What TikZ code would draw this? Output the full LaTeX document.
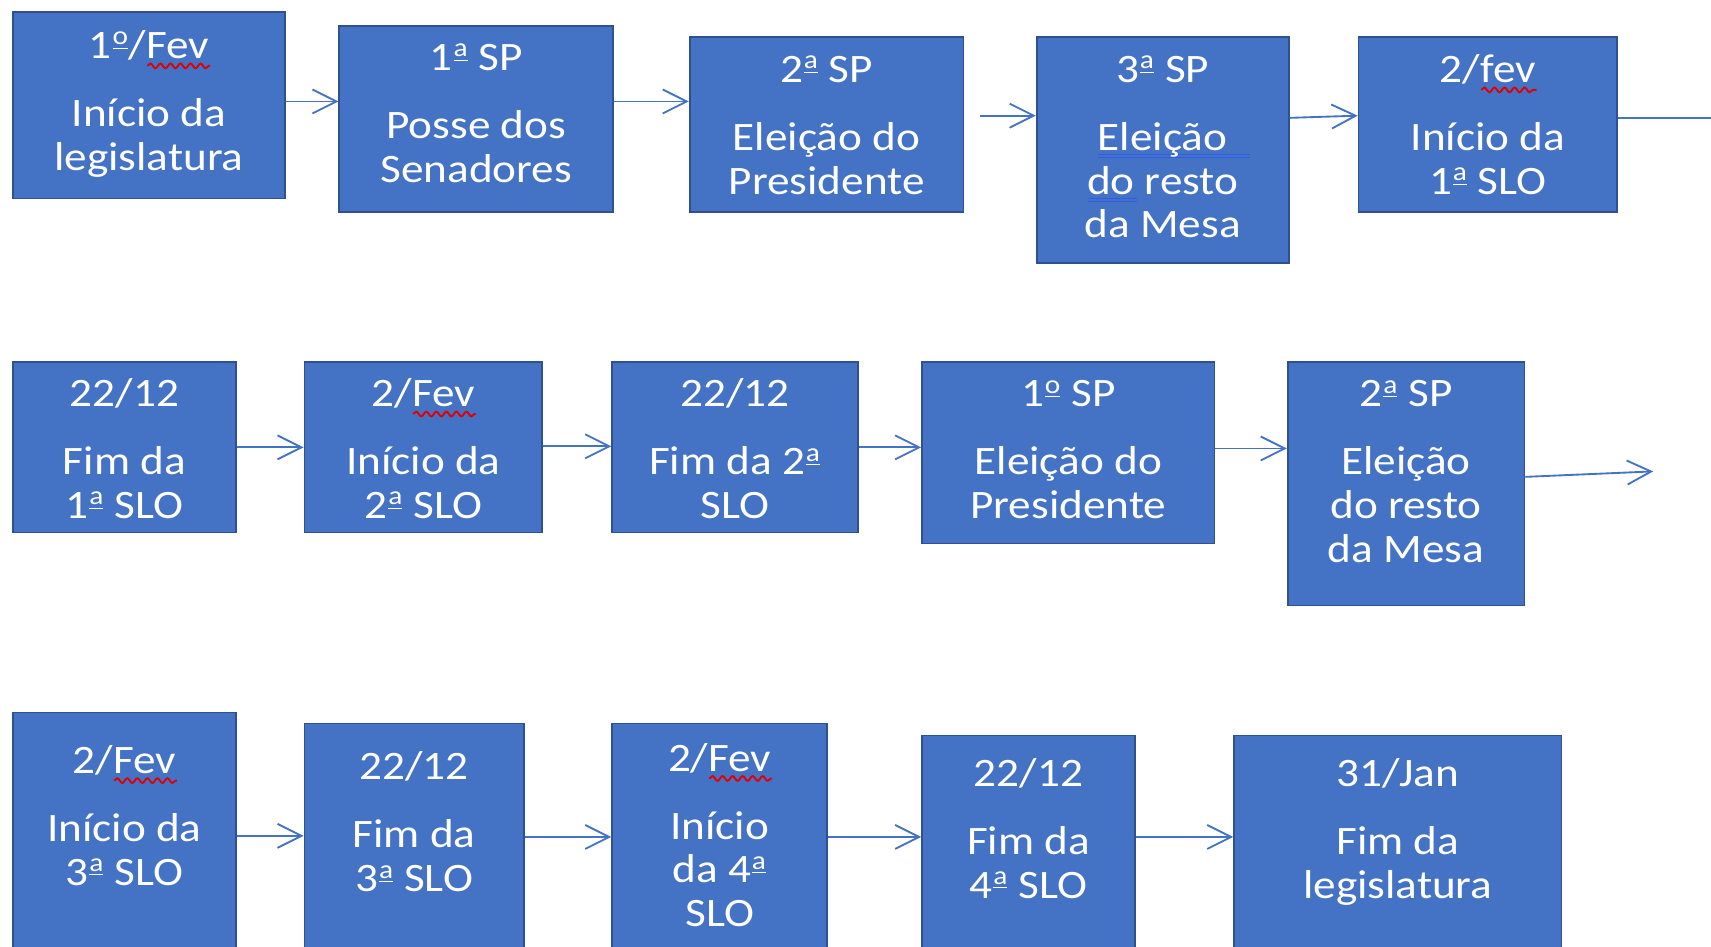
\documentclass[tikz,border=0pt]{standalone}
\usepackage{fontspec}
\setmainfont{Carlito}[FakeStretch=1.12]
\usetikzlibrary{arrows.meta,fit,decorations.pathmorphing}
\definecolor{boxfill}{HTML}{4472C4}
\definecolor{boxline}{HTML}{2F528F}
\definecolor{arrowc}{HTML}{4472C4}
\definecolor{squig}{HTML}{E00000}
\definecolor{gram}{HTML}{2F5CE0}
\newlength\sqlen
\newcommand\sqw[1]{\settowidth\sqlen{#1}\rlap{\tikz[baseline=0pt]\draw[squig,line width=0.85pt,decorate,decoration={snake,amplitude=1.1pt,segment length=4.6pt}] (0pt,-3.4pt) -- (\sqlen,-3.4pt);}#1}
\newcommand\dbl[2][0pt]{\settowidth\sqlen{#2}\addtolength\sqlen{#1}\rlap{\tikz[baseline=0pt]{\draw[gram,line width=0.5pt] (-1pt,-1.8pt) -- (\sqlen,-1.8pt) (-1pt,-3.2pt) -- (\sqlen,-3.2pt);}}#2}
\newcommand\ordi[1]{\kern0.4pt\raisebox{6.2pt}{\fontsize{12}{12}\selectfont$\underline{\hbox{#1}}$}\kern0.4pt}
\newcommand\oa{\ordi{a}}
\newcommand\oo{\ordi{o}}
\tikzset{
  stepbox/.style={draw=boxline, fill=boxfill, line width=0.8pt, inner sep=0pt, rectangle},
  txt/.style={anchor=north, inner sep=0pt, align=center, text=white, font=\fontsize{18.5}{20}\selectfont},
  conn/.style={draw=arrowc, line width=0.85pt, -{Straight Barb[length=11pt,width=11pt]}},
  plainline/.style={draw=arrowc, line width=0.85pt}
}
\newcommand\bx[7]{%
  \node[stepbox, fit={(#2,#3) (#4,#5)}] (#1) {};
  \node[txt] (#1t) at ([shift={(0,#6-20)}]#1.north) {\rule{0pt}{16pt}#7};}
\begin{document}
\begin{tikzpicture}[x=0.5pt,y=-0.5pt]
\useasboundingbox (0,0) rectangle (1568,867);
\clip (0,0) rectangle (1568,867);
% row 1
\bx{b1}{12}{11}{261}{182}{31}{1\oo/\sqw{Fev}\\[11.25pt]Início da\\legislatura}
\bx{b2}{311}{24}{562}{194}{29}{1\oa{} SP\\[11.25pt]Posse dos\\Senadores}
\bx{b3}{632}{34}{883}{194}{30}{2\oa{} SP\\[11.25pt]Eleição do\\Presidente}
\bx{b4}{950}{34}{1181}{241}{30}{3\oa{} SP\\[11.25pt]\dbl[9pt]{Eleição}\\\dbl{do} resto\\da Mesa}
\bx{b5}{1245}{34}{1482}{194}{30}{2/\sqw{fev}\\[11.25pt]Início da\\1\oa{} SLO}
% row 2
\bx{c1}{12}{332}{216}{488}{29}{22/12\\[11.25pt]Fim da\\1\oa{} SLO}
\bx{c2}{279}{332}{497}{488}{29}{2/\sqw{Fev}\\[11.25pt]Início da\\2\oa{} SLO}
\bx{c3}{561}{332}{786}{488}{29}{22/12\\[11.25pt]Fim da 2\oa\\SLO}
\bx{c4}{845}{332}{1113}{498}{29}{1\oo{} SP\\[11.25pt]Eleição do\\Presidente}
\bx{c5}{1180}{332}{1397}{555}{29}{2\oa{} SP\\[11.25pt]Eleição\\do resto\\da Mesa}
% row 3
\bx{d1}{12}{653}{216}{880}{44}{2/\sqw{Fev}\\[11.25pt]Início da\\3\oa{} SLO}
\bx{d2}{279}{663}{480}{880}{40}{22/12\\[11.25pt]Fim da\\3\oa{} SLO}
\bx{d3}{561}{663}{758}{880}{32}{2/\sqw{Fev}\\[11.25pt]Início\\da 4\oa\\SLO}
\bx{d4}{845}{674}{1040}{880}{35}{22/12\\[11.25pt]Fim da\\4\oa{} SLO}
\bx{d5}{1131}{674}{1431}{880}{35}{31/Jan\\[11.25pt]Fim da\\legislatura}
% connectors row 1
\draw[conn] ([shift={(0,-3.5)}]b1.east) -- ([shift={(0,-16)}]b2.west);
\draw[conn] ([shift={(0,-16)}]b2.east) -- ([shift={(0,-21)}]b3.west);
\draw[conn] ([shift={(14,-8)}]b3.east) -- ([shift={(0,-31.5)}]b4.west);
\draw[conn] ([shift={(0,-29.5)}]b4.east) -- ([shift={(0,-8)}]b5.west);
\coordinate (e1) at (1575,108);
\draw[plainline] ([shift={(0,-6)}]b5.east) -- (e1);
% connectors row 2
\draw[conn] (c1.east) -- (c2.west);
\draw[conn] ([shift={(0,-1)}]c2.east) -- ([shift={(0,-1)}]c3.west);
\draw[conn] (c3.east) -- ([shift={(0,-5)}]c4.west);
\draw[conn] ([shift={(0,-4)}]c4.east) -- ([shift={(0,-32.5)}]c5.west);
\coordinate (e2) at (1515,432);
\draw[conn] ([shift={(0,-6.5)}]c5.east) -- (e2);
% connectors row 3
\draw[conn] ([shift={(0,-0.5)}]d1.east) -- ([shift={(0,-5.5)}]d2.west);
\draw[conn] ([shift={(0,-4.5)}]d2.east) -- ([shift={(0,-4.5)}]d3.west);
\draw[conn] ([shift={(0,-4.5)}]d3.east) -- ([shift={(0,-10)}]d4.west);
\draw[conn] ([shift={(0,-10)}]d4.east) -- ([shift={(0,-10)}]d5.west);
\end{tikzpicture}
\end{document}
